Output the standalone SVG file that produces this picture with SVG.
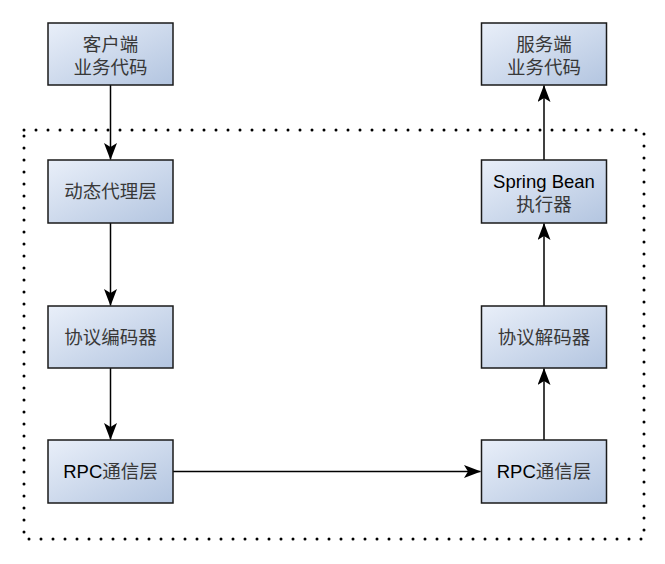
<svg xmlns="http://www.w3.org/2000/svg" width="665" height="564" viewBox="0 0 665 564">
<style>
.box{fill:url(#g);stroke:#1a1a1a;stroke-width:1.5}
.t{font-family:"Liberation Sans","Noto Sans CJK SC",sans-serif;font-size:18.5px;fill:#383838;text-anchor:middle}
.b{fill:#000}
.c{stroke:#000;stroke-width:1.5;fill:none;marker-end:url(#a)}
</style>
<defs>
<linearGradient id="g" x1="0" y1="0" x2="1" y2="1">
<stop offset="0" stop-color="#e9eff9"/>
<stop offset="1" stop-color="#b3c5e0"/>
</linearGradient>
<marker id="a" markerWidth="17" markerHeight="13" viewBox="0 0 17 13" refX="16.5" refY="6.5" orient="auto" markerUnits="userSpaceOnUse">
<path d="M0,0 L17,6.5 L0,13 L4,6.5 Z" fill="#000"/>
</marker>
</defs>
<rect x="24" y="130" width="620" height="409" fill="none" stroke="#000" stroke-width="3" stroke-linecap="round" stroke-dasharray="0 12"/>
<g id="connectors">
<line class="c" x1="110.5" y1="85" x2="110.5" y2="159.5"/>
<line class="c" x1="110.5" y1="223" x2="110.5" y2="305.5"/>
<line class="c" x1="110.5" y1="368" x2="110.5" y2="439.5"/>
<line class="c" x1="173" y1="471.5" x2="480.5" y2="471.5"/>
<line class="c" x1="544" y1="440" x2="544" y2="368.5"/>
<line class="c" x1="544" y1="306" x2="544" y2="223.5"/>
<line class="c" x1="544" y1="160" x2="544" y2="85.5"/>
</g>
<g id="client"><rect class="box" x="48" y="23" width="125" height="62"/><text class="t" x="110.5" y="51">客户端</text><text class="t" x="110.5" y="74">业务代码</text></g>
<g id="proxy"><rect class="box" x="48" y="160" width="125" height="63"/><text class="t" x="110.5" y="198">动态代理层</text></g>
<g id="encoder"><rect class="box" x="48" y="306" width="125" height="62"/><text class="t" x="110.5" y="344">协议编码器</text></g>
<g id="rpc-left"><rect class="box" x="48" y="440" width="125" height="63"/><text class="t" x="110.5" y="478"><tspan class="b">RPC</tspan>通信层</text></g>
<g id="server"><rect class="box" x="481.5" y="23" width="125" height="62"/><text class="t" x="544" y="51">服务端</text><text class="t" x="544" y="74">业务代码</text></g>
<g id="spring"><rect class="box" x="481.5" y="160" width="125" height="63"/><text class="t b" x="544" y="188">Spring Bean</text><text class="t" x="544" y="211">执行器</text></g>
<g id="decoder"><rect class="box" x="481.5" y="306" width="125" height="62"/><text class="t" x="544" y="344">协议解码器</text></g>
<g id="rpc-right"><rect class="box" x="481.5" y="440" width="125" height="63"/><text class="t" x="544" y="478"><tspan class="b">RPC</tspan>通信层</text></g>
</svg>
